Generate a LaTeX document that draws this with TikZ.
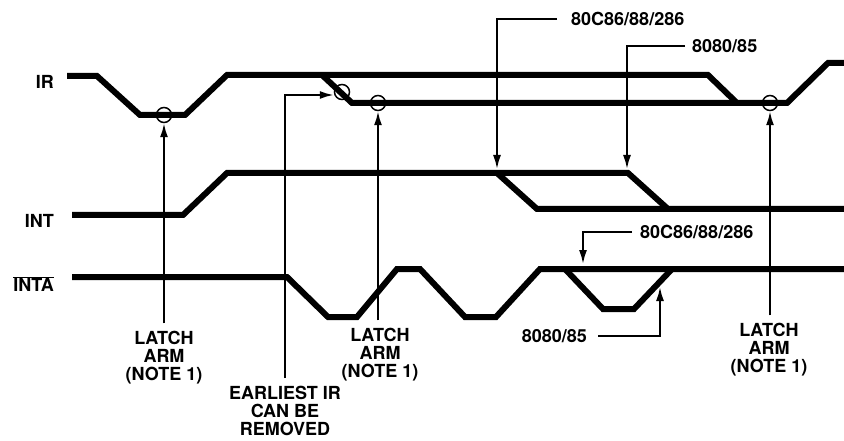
\documentclass[tikz,border=0pt]{standalone}
\usepackage{fontspec}
\setmainfont{TeX Gyre Heros}
\usetikzlibrary{arrows.meta}
\usetikzlibrary{positioning,calc}

\begin{document}
\begin{tikzpicture}[x=1pt,y=-1pt]
\tikzset{
    signal/.style={
        line width=6pt,
        line join=miter,
    },
    pointer/.style={ % requires library arrows.meta
        line width=2pt,
        -{Latex[length=14pt,width=8pt]},
    },
    latch/.style={
        draw,
        circle,
        line width=1.5pt,
        minimum size=15pt,
        inner sep=0pt,
    },
    note/.style={
        font=\bfseries\fontsize{18}{18}\selectfont,
        align=center,
        inner sep=0pt,
    },
    signame/.style={
        note,
        anchor=east,
    },
}
\useasboundingbox (0,0) rectangle (844,441);

% signal names
\node[signame] (ir) at (54,82) {IR};
\node[signame] (int) at (54,221) {INT};
\node[signame] (inta) at (54,284) {$\overline{\mbox{INTA}}$};

% IR
\draw[signal] (67,76) -- (97,76) -- (140,115) -- (185,115) -- (227,75)
    -- (708,75) -- (737,103);
\draw[signal] (322,75) -- (352,103) -- (787,103) -- (828,63) -- (844,63);
% INT
\draw[signal] (72,215) -- (183,215) -- (227,173) -- (628,173) -- (668,209)
    -- (844,209);
\draw[signal] (497,173) -- (537,209) -- (668,209);
% INTA
\draw[signal] (72,277) -- (287,277) -- (328,317) -- (357,317) -- (397,269)
    -- (420,269) -- (465,317) -- (496,317) -- (540,269) -- (844,269);
\draw[signal] (565,269) -- (603,309) -- (634,309) -- (672,269);

% latch points
\node[latch] (c1) at (164,115) {};
\node[latch] (c2) at (342,92) {};
\node[latch] (c3) at (378,103) {};
\node[latch] (c4) at (770,103) {};

% notes below
\node[note] (arm1) at (164,358) {LATCH\\ARM\\(NOTE 1)};
\node[note] (early) at (285,411) {EARLIEST IR\\CAN BE\\REMOVED};
\node[note] (arm2) at (380,355) {LATCH\\ARM\\(NOTE 1)};
\node[note] (arm3) at (769,350) {LATCH\\ARM\\(NOTE 1)};

\draw[pointer] ([yshift=8pt]c1.south |- arm1.north) -- (c1.south);
\draw[pointer] ([yshift=8pt]early.north) |- ([yshift=-3pt]c2.west);
\draw[pointer] ([yshift=8pt]c3.south |- arm2.north) -- (c3.south);
\draw[pointer] ([yshift=8pt]c4.south |- arm3.north) -- (c4.south);

% processor notes
\node[note,anchor=west] (cpuA) at (571,19) {80C86/88/286};
\node[note,anchor=west] (cpuB) at (692,46) {8080/85};
\node[note,anchor=west] (cpuC) at (640,232) {80C86/88/286};
\node[note,anchor=east] (cpuD) at (587,336) {8080/85};

\coordinate (intA) at (497,169);
\coordinate (intB) at (627,169);
\coordinate (intaA) at (583,264);
\coordinate (intaB) at (660,287);

\draw[pointer] ([xshift=-14pt]cpuA.west) -| (intA);
\draw[pointer] ([xshift=-7pt]cpuB.west) -| (intB);
\draw[pointer] ([xshift=-8pt]cpuC.west) -| (intaA);
\draw[pointer] ([xshift=11pt]cpuD.east) -| (intaB);
\end{tikzpicture}
\end{document}
